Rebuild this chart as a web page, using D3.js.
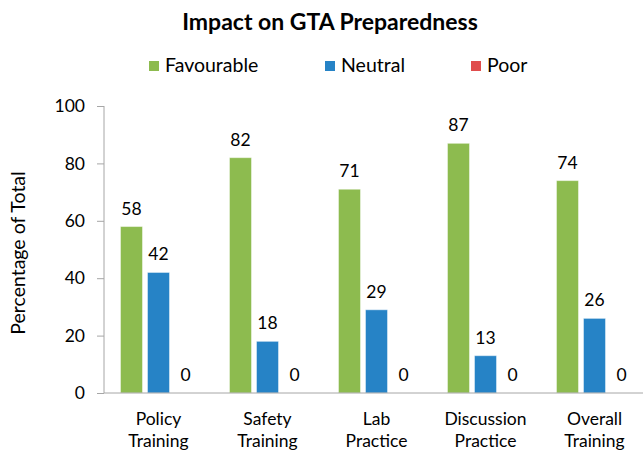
<!DOCTYPE html>
<html>
<head>
<meta charset="utf-8">
<script src="https://cdn.jsdelivr.net/npm/d3@7"></script>
<style>
  body { margin: 0; background: #fff; }
  text { font-family: Lato, "Open Sans", sans-serif; fill: #000; }
  .axis path, .axis line { stroke: #a6a6a6; }
</style>
</head>
<body>
<script>
(function(){

//chart data
var categories = [["Policy", "Training"], ["Safety", "Training"], ["Lab", "Practice"], ["Discussion", "Practice"], ["Overall", "Training"]];
var seriesNames = ["Favourable", "Neutral", "Poor"];
var favourable = [58, 82, 71, 87, 74];
var neutral = [42, 18, 29, 13, 26];
var poor = [0, 0, 0, 0, 0];
var yTicks = [0, 20, 40, 60, 80, 100];
var colors = ["#8dbb4f", "#2683c6", "#e04d4d"];

var values = [favourable, neutral, poor];

window.onload = drawChart();

function drawChart(){
    var width = 643,
        height = 450;

    var svg = d3.select("body")
        .append("svg")
        .attr("width", width)
        .attr("height", height);

    //scales
    var x0 = d3.scaleBand()
        .domain(d3.range(categories.length))
        .range([104, 649]);

    var x1 = d3.scaleBand()
        .domain(seriesNames)
        .range([0, x0.bandwidth()])
        .paddingInner(5 / 27)
        .paddingOuter(0.61);

    var y = d3.scaleLinear()
        .domain([0, 100])
        .range([393, 106]);

    var color = d3.scaleOrdinal()
        .domain(seriesNames)
        .range(colors);

    //title
    svg.append("text")
        .attr("x", 330)
        .attr("y", 30)
        .attr("text-anchor", "middle")
        .style("font-size", "23px")
        .style("font-weight", "bold")
        .text("Impact on GTA Preparedness");

    //legend
    var legendX = [149, 325, 471];
    var legend = svg.selectAll(".legend")
        .data(seriesNames)
        .enter()
        .append("g")
        .attr("class", "legend")
        .attr("transform", function(d, i){ return "translate(" + legendX[i] + ",61)"; });

    legend.append("rect")
        .attr("width", 10)
        .attr("height", 10)
        .attr("fill", function(d){ return color(d); });

    legend.append("text")
        .attr("x", 16)
        .attr("y", 11)
        .style("font-size", "19.5px")
        .text(function(d){ return d; });

    //y axis
    var yAxis = d3.axisLeft(y)
        .tickValues(yTicks)
        .tickSize(7)
        .tickSizeOuter(0)
        .tickPadding(12);

    var yG = svg.append("g")
        .attr("class", "axis")
        .attr("transform", "translate(104,0)")
        .call(yAxis);
    yG.selectAll("text").style("font-size", "17.5px").style("fill", "#000");
    yG.select(".domain").attr("d", "M0," + y(100) + "V" + y(0));

    //y axis label
    svg.append("text")
        .attr("transform", "translate(25,253) rotate(-90)")
        .attr("text-anchor", "middle")
        .style("font-size", "19.5px")
        .text("Percentage of Total");

    //bars
    var groups = svg.selectAll(".group")
        .data(categories)
        .enter()
        .append("g")
        .attr("class", "group")
        .attr("transform", function(d, i){ return "translate(" + x0(i) + ",0)"; });

    groups.selectAll("rect")
        .data(function(d, i){
            return seriesNames.map(function(s, j){ return {series: s, value: values[j][i]}; });
        })
        .enter()
        .append("rect")
        .attr("x", function(d){ return x1(d.series); })
        .attr("width", x1.bandwidth())
        .attr("y", function(d){ return y(d.value); })
        .attr("height", function(d){ return y(0) - y(d.value); })
        .attr("fill", function(d){ return color(d.series); })
        .attr("stroke", "#ffffff")
        .attr("stroke-opacity", 0.45)
        .attr("stroke-width", 1);

    //value labels
    groups.selectAll(".val")
        .data(function(d, i){
            return seriesNames.map(function(s, j){ return {series: s, value: values[j][i]}; });
        })
        .enter()
        .append("text")
        .attr("class", "val")
        .attr("x", function(d){ return x1(d.series) + x1.bandwidth() / 2; })
        .attr("y", function(d){ return y(d.value) - 12; })
        .attr("text-anchor", "middle")
        .style("font-size", "17.5px")
        .text(function(d){ return d.value; });

    //x axis line
    svg.append("line")
        .attr("x1", 104)
        .attr("x2", width)
        .attr("y1", y(0))
        .attr("y2", y(0))
        .attr("stroke", "#a6a6a6");

    //category labels
    var catLabels = groups.append("text")
        .attr("text-anchor", "middle")
        .style("font-size", "17.5px");

    catLabels.selectAll("tspan")
        .data(function(d){ return d; })
        .enter()
        .append("tspan")
        .attr("x", x0.bandwidth() / 2)
        .attr("y", function(d, i){ return 425 + i * 22; })
        .text(function(d){ return d; });
}

})();
</script>
</body>
</html>
